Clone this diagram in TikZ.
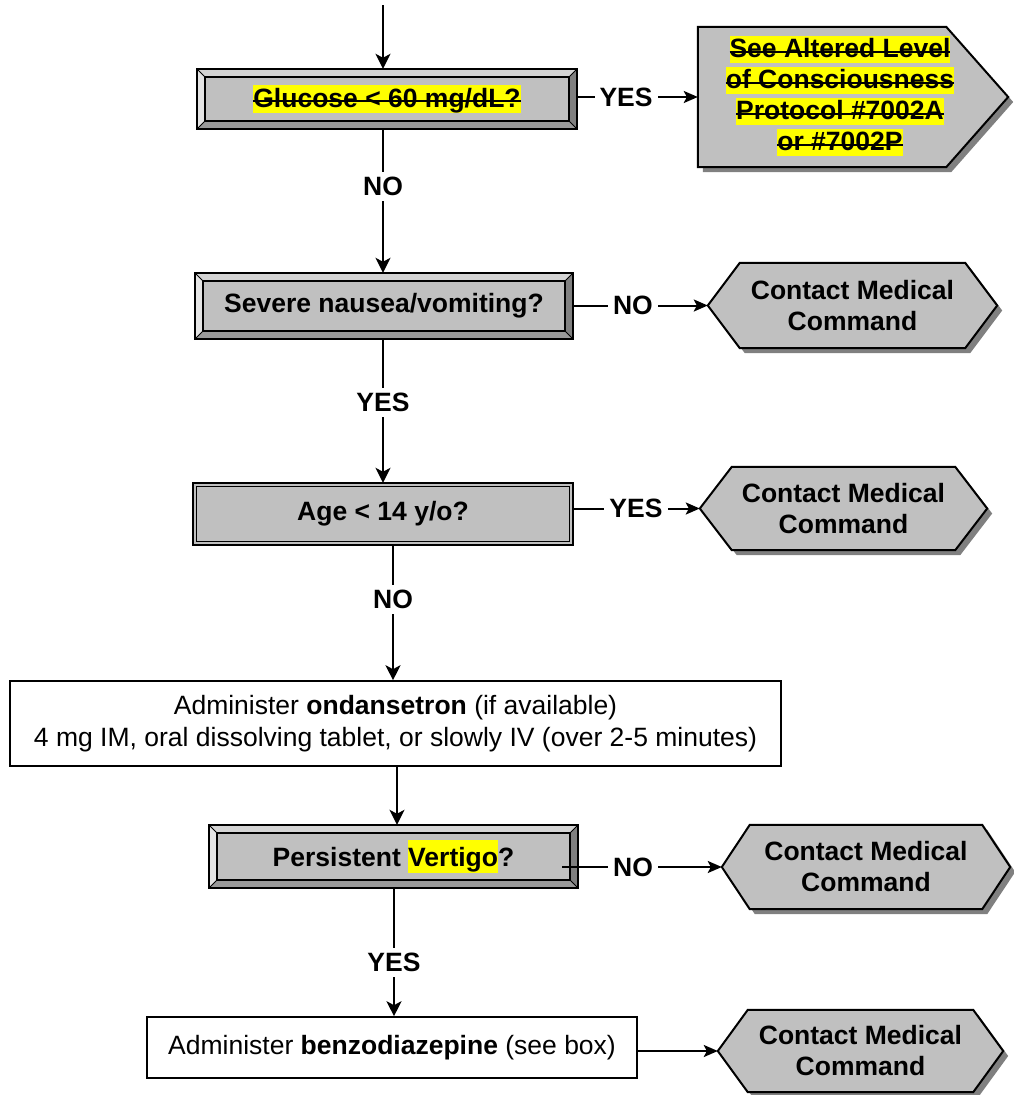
\documentclass[tikz,border=0pt]{standalone}
\usepackage{fontspec}
\setmainfont{Liberation Sans}
\usetikzlibrary{arrows.meta,calc}
\definecolor{boxgray}{HTML}{C0C0C0}
\definecolor{shadowgray}{HTML}{808080}
\definecolor{bevlight}{HTML}{E4E4E4}
\definecolor{bevtop}{HTML}{D4D4D4}
\definecolor{bevdark}{HTML}{808080}
\definecolor{bevbot}{HTML}{9A9A9A}
\definecolor{hlyellow}{HTML}{FFFF00}
\pgfdeclarelayer{background}
\pgfsetlayers{background,main}

\newsavebox\hlsavebox
\newcommand\hlst[1]{{\sbox\hlsavebox{#1}\setlength\fboxsep{0pt}\colorbox{hlyellow}{\rule[-0.2em]{0pt}{1.02em}\usebox\hlsavebox\llap{\rule[0.19em]{\wd\hlsavebox}{2pt}}}}}
\newcommand\hlword[1]{{\setlength\fboxsep{0pt}\colorbox{hlyellow}{\rule[-0.24em]{0pt}{1.21em}#1}}}

\newcommand\bevelframe[2]{%
  \fill[bevtop] (#1.north west) -- (#1.north east) -- ([shift={(-#2,#2)}]#1.north east) -- ([shift={(#2,#2)}]#1.north west) -- cycle;
  \fill[bevlight] (#1.north west) -- ([shift={(#2,#2)}]#1.north west) -- ([shift={(#2,-#2)}]#1.south west) -- (#1.south west) -- cycle;
  \fill[bevdark] (#1.north east) -- (#1.south east) -- ([shift={(-#2,-#2)}]#1.south east) -- ([shift={(-#2,#2)}]#1.north east) -- cycle;
  \fill[bevbot] (#1.south west) -- ([shift={(#2,-#2)}]#1.south west) -- ([shift={(-#2,-#2)}]#1.south east) -- (#1.south east) -- cycle;
  \draw[line width=0.8pt] (#1.north west) -- ++(#2,#2) (#1.north east) -- ++(-#2,#2) (#1.south west) -- ++(#2,-#2) (#1.south east) -- ++(-#2,-#2);
  \draw[line width=1.5pt] ([shift={(#2,#2)}]#1.north west) rectangle ([shift={(-#2,-#2)}]#1.south east);
  \draw[line width=2pt] (#1.north west) rectangle (#1.south east);
}

\newcommand\hexshape[2]{%
  \begin{pgfonlayer}{background}
  \fill[shadowgray] ([shift={(5,5)}]#1.west) -- ([shift={(#2+5,5)}]#1.north west) -- ([shift={(-#2+5,5)}]#1.north east) -- ([shift={(5,5)}]#1.east) -- ([shift={(-#2+5,5)}]#1.south east) -- ([shift={(#2+5,5)}]#1.south west) -- cycle;
  \filldraw[fill=boxgray, line width=2pt, line join=miter] (#1.west) -- ([xshift=#2]#1.north west) -- ([xshift=-#2]#1.north east) -- (#1.east) -- ([xshift=-#2]#1.south east) -- ([xshift=#2]#1.south west) -- cycle;
  \end{pgfonlayer}}

\begin{document}
\begin{tikzpicture}[x=1pt,y=-1pt,
  every node/.style={font=\fontsize{26.5}{31}\selectfont\bfseries},
  gbox/.style={fill=boxgray, inner sep=0pt},
  wbox/.style={draw, line width=1.6pt, fill=white, inner sep=0pt, align=center, font=\fontsize{26.5}{32}\selectfont\mdseries},
  holder/.style={inner sep=0pt, align=center},
  varr/.style={line width=2pt, -{Stealth[length=15pt,width=15pt,inset=4pt]}},
  harr/.style={line width=2pt, -{Stealth[length=14pt,width=12pt,inset=3pt]}},
  lbl/.style={fill=white, inner sep=5pt}]
\useasboundingbox (0,0) rectangle (1013,1095);

% decision boxes
\node[gbox, minimum width=380, minimum height=60] (b1) at (387,99) {\hlst{Glucose < 60 mg/dL?}};
\bevelframe{b1}{8}
\node[gbox, minimum width=378, minimum height=66] (b2) at (384,306) {Severe nausea/vomiting?};
\bevelframe{b2}{8}
\node[gbox, minimum width=380, minimum height=62] (b3) at (383,514) {Age < 14 y/o?};
\draw[line width=2pt] (b3.north west) rectangle (b3.south east);
\draw[line width=1.5pt] ([shift={(3.5,3.5)}]b3.north west) rectangle ([shift={(-3.5,-3.5)}]b3.south east);
\node[wbox, minimum width=771, minimum height=85] (b4) at (395.5,723.5) {Administer \textbf{ondansetron} (if available)\\4 mg IM, oral dissolving tablet, or slowly IV (over 2-5 minutes)};
\node[gbox, minimum width=369, minimum height=63] (b5) at (393.5,856.5) {Persistent \hlword{Vertigo}?};
\bevelframe{b5}{8}
\node[wbox, minimum width=490, minimum height=61] (b6) at (392,1047.5) {Administer \textbf{benzodiazepine} (see box)};

% pentagon
\node[holder, minimum width=310, minimum height=140] (p1) at (853,97) {};
\node[holder] (p1t) at (840,96) {\hlst{See Altered Level}\\\hlst{of Consciousness}\\\hlst{Protocol \#7002A}\\\hlst{or \#7002P}};
\begin{pgfonlayer}{background}
\fill[shadowgray] ([shift={(5,5)}]p1.north west) -- ([shift={(-57,5)}]p1.north east) -- ([shift={(5,5)}]p1.east) -- ([shift={(-57,5)}]p1.south east) -- ([shift={(5,5)}]p1.south west) -- cycle;
\filldraw[fill=boxgray, line width=2pt, line join=miter] (p1.north west) -- ([xshift=-62]p1.north east) -- (p1.east) -- ([xshift=-62]p1.south east) -- (p1.south west) -- cycle;
\end{pgfonlayer}

% hexagons
\node[holder, minimum width=289, minimum height=85] (h1) at (852.5,305.5) {Contact Medical\\Command};
\hexshape{h1}{32}
\node[holder, minimum width=287, minimum height=83] (h2) at (843.5,508.5) {Contact Medical\\Command};
\hexshape{h2}{32}
\node[holder, minimum width=288, minimum height=84] (h3) at (866,867) {Contact Medical\\Command};
\hexshape{h3}{28}
\node[holder, minimum width=285, minimum height=82] (h4) at (860.5,1051) {Contact Medical\\Command};
\hexshape{h4}{30}

% vertical connectors
\coordinate (start) at (383,5);
\draw[varr] (start) -- (start |- b1.north);
\draw[varr] ([xshift=-4]b1.south) -- node[lbl,pos=0.4]{NO} ([xshift=-1]b2.north);
\draw[varr] ([xshift=-1]b2.south) -- node[lbl,pos=0.44]{YES} (b3.north);
\draw[varr] ([xshift=10]b3.south) -- node[lbl,pos=0.4]{NO} ([xshift=-2.5]b4.north);
\draw[varr] ([xshift=1.5]b4.south) -- ([xshift=3.5]b5.north);
\draw[varr] ([xshift=0.5]b5.south) -- node[lbl,pos=0.58]{YES} ([xshift=2]b6.north);

% horizontal connectors
\draw[harr] (b1.east |- p1.west) -- node[lbl,pos=0.405]{YES} (p1.west);
\draw[harr] (b2.east |- h1.west) -- node[lbl,pos=0.444]{NO} (h1.west);
\draw[harr] (b3.east |- h2.west) -- node[lbl,pos=0.496]{YES} (h2.west);
\coordinate (v5) at ([xshift=-16]b5.east);
\draw[harr] (v5 |- h3.west) -- node[lbl,pos=0.444]{NO} (h3.west);
\draw[harr] (b6.east |- h4.west) -- (h4.west);
\end{tikzpicture}
\end{document}
